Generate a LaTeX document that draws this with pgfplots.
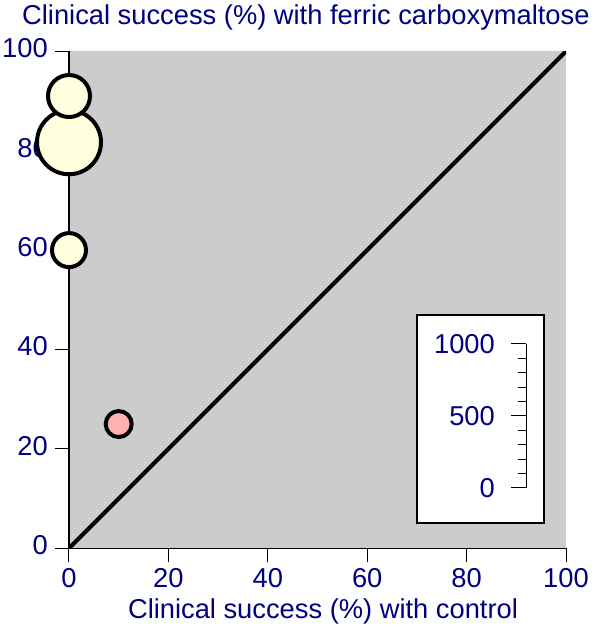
\documentclass[border=0pt]{standalone}
\usepackage{pgfplots}
\pgfplotsset{compat=1.18}
\usepackage{fontspec}
\setmainfont{Liberation Sans}
\definecolor{txt}{RGB}{0,0,128}
\definecolor{bg}{RGB}{204,204,204}
\definecolor{bub}{RGB}{255,255,221}
\definecolor{pinkb}{RGB}{255,176,176}
\newcommand{\fs}{\fontsize{27.3}{32}\selectfont}
\begin{document}
\fs
\begin{tikzpicture}
\path[use as bounding box] (0pt,0pt) rectangle (600pt,630pt);
\begin{axis}[
  at={(69pt,81.7pt)}, anchor=south west,
  scale only axis, width=497pt, height=497pt,
  xmin=0, xmax=100, ymin=0, ymax=100,
  axis lines=left,
  axis line style={-, line width=1.5pt, black},
  axis background/.style={fill=bg},
  xtick={0,20,...,100}, ytick={0,20,...,100},
  tick align=outside, major tick length=14pt,
  tick style={black, line width=1pt},
  /pgf/number format/assume math mode=true,
  every tick label/.append style={font=\fs, text=txt},
  xticklabel style={anchor=north, inner sep=0pt, yshift=-5.7pt},
  yticklabel style={anchor=east, inner sep=0pt, xshift=-7pt, yshift=3pt},
  xlabel={Clinical success (\%) with control},
  xlabel style={at={(rel axis cs:0.5,0)}, anchor=base, yshift=-69.7pt, xshift=5.5pt, inner sep=0pt, font=\fs, text=txt},
  clip mode=individual,
]
\addplot[black, line width=4pt] coordinates {(0,0) (100,100)};
\addplot[only marks, mark=*, mark size=32pt, mark options={fill=bub, draw=black, line width=4pt}] coordinates {(0,81.7)};
\addplot[only marks, mark=*, mark size=21pt, mark options={fill=bub, draw=black, line width=4pt}] coordinates {(0,91)};
\addplot[only marks, mark=*, mark size=17pt, mark options={fill=bub, draw=black, line width=4pt}] coordinates {(0,60)};
\addplot[only marks, mark=*, mark size=13pt, mark options={fill=pinkb, draw=black, line width=4pt}] coordinates {(10,25)};
\end{axis}
\node[anchor=base west, text=txt, inner sep=0pt, font=\fs] at (22pt,605pt) {Clinical success (\%) with ferric carboxymaltose};
\draw[fill=white, line width=2pt] (417pt,107pt) rectangle (544pt,315pt);
\begin{axis}[
  at={(526pt,142pt)}, anchor=south west,
  scale only axis, width=1pt, height=144pt,
  xmin=0, xmax=1, ymin=0, ymax=1000,
  axis x line=none, axis y line=left,
  axis line style={-, line width=1pt, black},
  ytick={0,500,1000}, minor ytick={100,200,300,400,600,700,800,900},
  tick align=outside, major tick length=15pt, minor tick length=8pt,
  tick style={black, line width=1pt},
  /pgf/number format/assume math mode=true,
  /pgf/number format/1000 sep={},
  every tick label/.append style={font=\fs, text=txt},
  yticklabel style={anchor=east, inner sep=0pt, xshift=-16pt, yshift=0pt},
]
\end{axis}
\end{tikzpicture}
\end{document}
